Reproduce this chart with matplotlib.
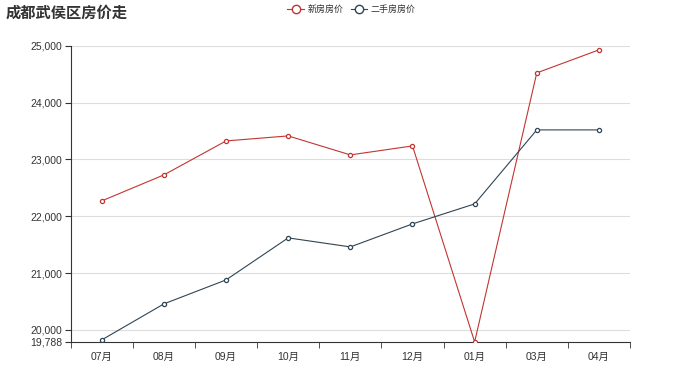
import matplotlib.pyplot as plt
from matplotlib.lines import Line2D

plt.rcParams['font.family'] = ['Liberation Sans', 'Noto Sans CJK SC', 'DejaVu Sans']

months = ['07月', '08月', '09月', '10月', '11月', '12月', '01月', '03月', '04月']
new_price = [22271, 22729, 23327, 23415, 23081, 23239, 19788, 24525, 24930]
second_price = [19824, 20458, 20880, 21620, 21461, 21866, 22218, 23521, 23521]
y_ticks = [19788, 20000, 21000, 22000, 23000, 24000, 25000]

red = '#c23531'
dark = '#2f4554'

fig = plt.figure(figsize=(7, 3.89), dpi=100)
ax = fig.add_axes([0.101, 0.121, 0.799, 0.761])

x = list(range(len(months)))
ax.plot(x, new_price, color=red, lw=0.8, marker='o', ms=3, mfc='white', mec=red, mew=0.9, zorder=3)
ax.plot(x, second_price, color=dark, lw=0.8, marker='o', ms=3, mfc='white', mec=dark, mew=0.9, zorder=3)

ax.set_xlim(-0.5, len(months) - 0.5)
ax.set_ylim(19788, 25000)
ax.set_yticks(y_ticks)
ax.set_yticklabels([f'{v:,}' for v in y_ticks])
ax.set_xticks(x)
ax.set_xticklabels(months)
ax.set_xticks([i - 0.5 for i in range(len(months) + 1)], minor=True)
ax.tick_params(axis='x', which='major', length=0, pad=7, labelsize=7.5, colors='#333333')
ax.tick_params(axis='x', which='minor', length=4, color='#333333')
ax.tick_params(axis='y', length=4, labelsize=7.5, colors='#333333', pad=2)

for v in y_ticks[1:]:
    ax.axhline(v, color='#dddddd', lw=0.8, zorder=1)

for s in ['top', 'right']:
    ax.spines[s].set_visible(False)
ax.spines['left'].set_color('#333333')
ax.spines['bottom'].set_color('#333333')

fig.text(0.008, 0.965, '成都武侯区房价走', fontsize=11, fontweight='bold', color='#333333', va='center')

handles = [
    Line2D([], [], color=red, lw=0.8, marker='o', ms=6, mfc='white', mec=red),
    Line2D([], [], color=dark, lw=0.8, marker='o', ms=6, mfc='white', mec=dark),
]
fig.legend(handles, ['新房房价', '二手房房价'], loc='center', bbox_to_anchor=(0.502, 0.975),
           ncol=2, frameon=False, fontsize=6.5, handlelength=1.8, columnspacing=0.8,
           handletextpad=0.4, labelcolor='#333333')

plt.savefig('out.png')
